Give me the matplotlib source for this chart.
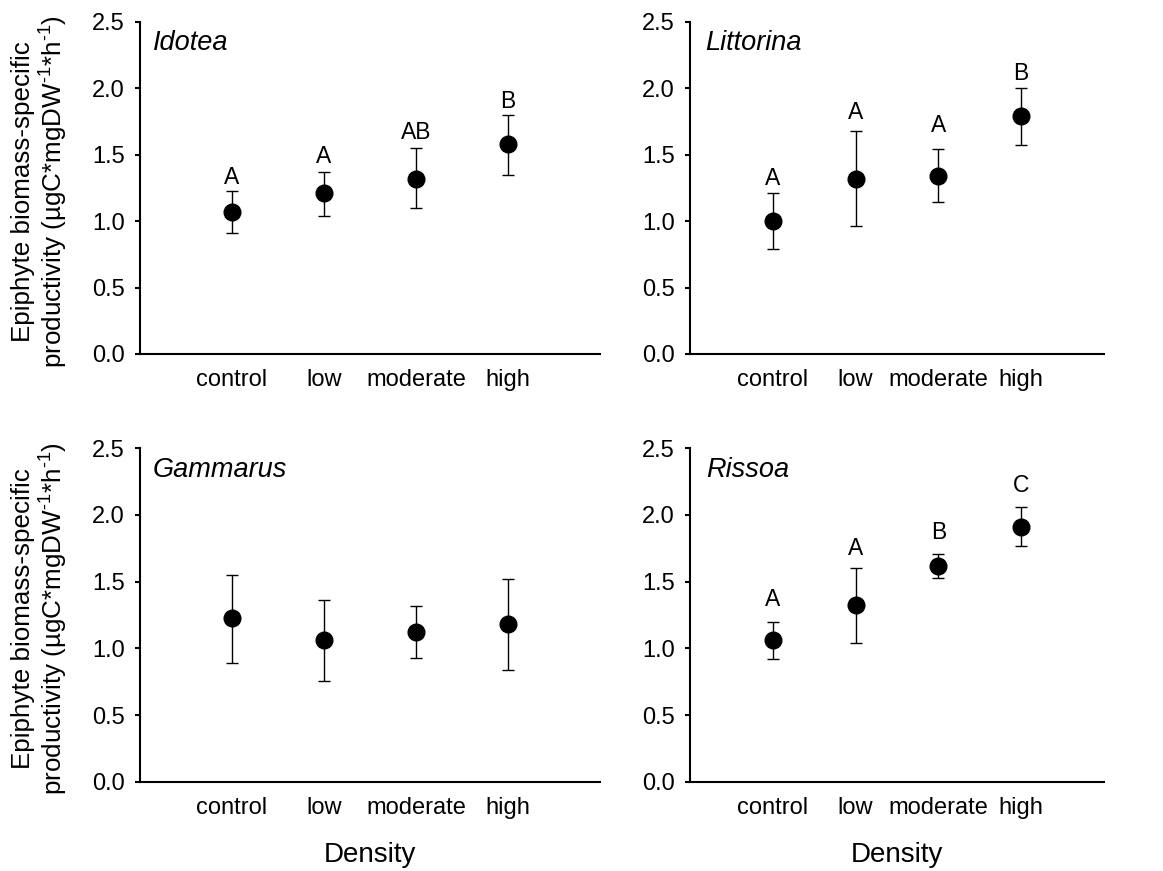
import matplotlib
matplotlib.use("Agg")
import matplotlib.pyplot as plt

plt.rcParams['font.family'] = ['Liberation Sans', 'DejaVu Sans']
plt.rcParams['mathtext.fontset'] = 'custom'
plt.rcParams['mathtext.rm'] = 'Liberation Sans'
plt.rcParams['mathtext.it'] = 'Liberation Sans:italic'
plt.rcParams['mathtext.default'] = 'regular'

categories = ['control', 'low', 'moderate', 'high']
species = ['Idotea', 'Littorina', 'Gammarus', 'Rissoa']

idotea_mean = [1.07, 1.21, 1.32, 1.58]
idotea_upper = [1.23, 1.37, 1.55, 1.80]
idotea_lower = [0.91, 1.04, 1.10, 1.35]
idotea_letters = ['A', 'A', 'AB', 'B']
idotea_letter_y = [1.28, 1.435, 1.62, 1.85]

littorina_mean = [1.00, 1.32, 1.34, 1.79]
littorina_upper = [1.21, 1.68, 1.54, 2.00]
littorina_lower = [0.79, 0.96, 1.14, 1.575]
littorina_letters = ['A', 'A', 'A', 'B']
littorina_letter_y = [1.27, 1.77, 1.67, 2.06]

gammarus_mean = [1.225, 1.06, 1.125, 1.18]
gammarus_upper = [1.55, 1.36, 1.32, 1.52]
gammarus_lower = [0.89, 0.755, 0.93, 0.835]
gammarus_letters = ['', '', '', '']
gammarus_letter_y = [0, 0, 0, 0]

rissoa_mean = [1.06, 1.325, 1.62, 1.91]
rissoa_upper = [1.20, 1.60, 1.71, 2.06]
rissoa_lower = [0.92, 1.04, 1.53, 1.77]
rissoa_letters = ['A', 'A', 'B', 'C']
rissoa_letter_y = [1.32, 1.70, 1.82, 2.175]

yticks = [0.0, 0.5, 1.0, 1.5, 2.0, 2.5]
ylabel = 'Epiphyte biomass-specific\nproductivity (µgC*mgDW$^{\\text{-}1}$*h$^{\\text{-}1}$)'
xlabel = 'Density'

W, H = 1163, 871
fig = plt.figure(figsize=(W / 100, H / 100), dpi=100)

def frac(l, r, top, bot):
    return [l / W, (H - bot) / H, (r - l) / W, (bot - top) / H]

rects = [frac(140, 600, 21.7, 354), frac(690, 1104, 21.7, 354),
         frac(140, 600, 448.3, 781.7), frac(690, 1104, 448.3, 781.7)]

panels = [
    (idotea_mean, idotea_upper, idotea_lower, idotea_letters, idotea_letter_y),
    (littorina_mean, littorina_upper, littorina_lower, littorina_letters, littorina_letter_y),
    (gammarus_mean, gammarus_upper, gammarus_lower, gammarus_letters, gammarus_letter_y),
    (rissoa_mean, rissoa_upper, rissoa_lower, rissoa_letters, rissoa_letter_y),
]
name_x = [0.028, 0.036, 0.028, 0.039]

for i, (rect, (mean, up, lo, letters, ly)) in enumerate(zip(rects, panels)):
    ax = fig.add_axes(rect)
    x = list(range(1, len(categories) + 1))
    yerr = [[m - l for m, l in zip(mean, lo)], [u - m for m, u in zip(mean, up)]]
    ax.errorbar(x, mean, yerr=yerr, fmt='o', color='black', markersize=12,
                elinewidth=1.0, capsize=4, capthick=1.0, zorder=3)
    for xi, t, yy in zip(x, letters, ly):
        if t:
            ax.text(xi, yy, t, ha='center', va='baseline', fontsize=16.5)
    ax.set_xlim(0, 5)
    ax.set_ylim(0, 2.5)
    ax.set_yticks(yticks)
    ax.set_yticklabels([f'{v:.1f}' for v in yticks])
    ax.set_xticks(x)
    ax.set_xticklabels(categories)
    ax.spines['top'].set_visible(False)
    ax.spines['right'].set_visible(False)
    ax.spines['left'].set_linewidth(1.5)
    ax.spines['bottom'].set_linewidth(1.5)
    ax.tick_params(axis='y', direction='out', length=3.8, width=1.5, labelsize=17, pad=7)
    ax.tick_params(axis='x', length=0, labelsize=17, pad=11)
    ax.text(name_x[i], 0.975, species[i], transform=ax.transAxes, ha='left', va='top',
            fontsize=19.5, style='italic')
    if i in (0, 2):
        ax.set_ylabel(ylabel, fontsize=18.7, linespacing=1.12)
        ax.yaxis.set_label_coords(-0.152, 0.49)
    if i in (2, 3):
        ax.set_xlabel(xlabel, fontsize=20)
        ax.xaxis.set_label_coords(0.5, -0.18)

fig.savefig('out.png', dpi=100)
